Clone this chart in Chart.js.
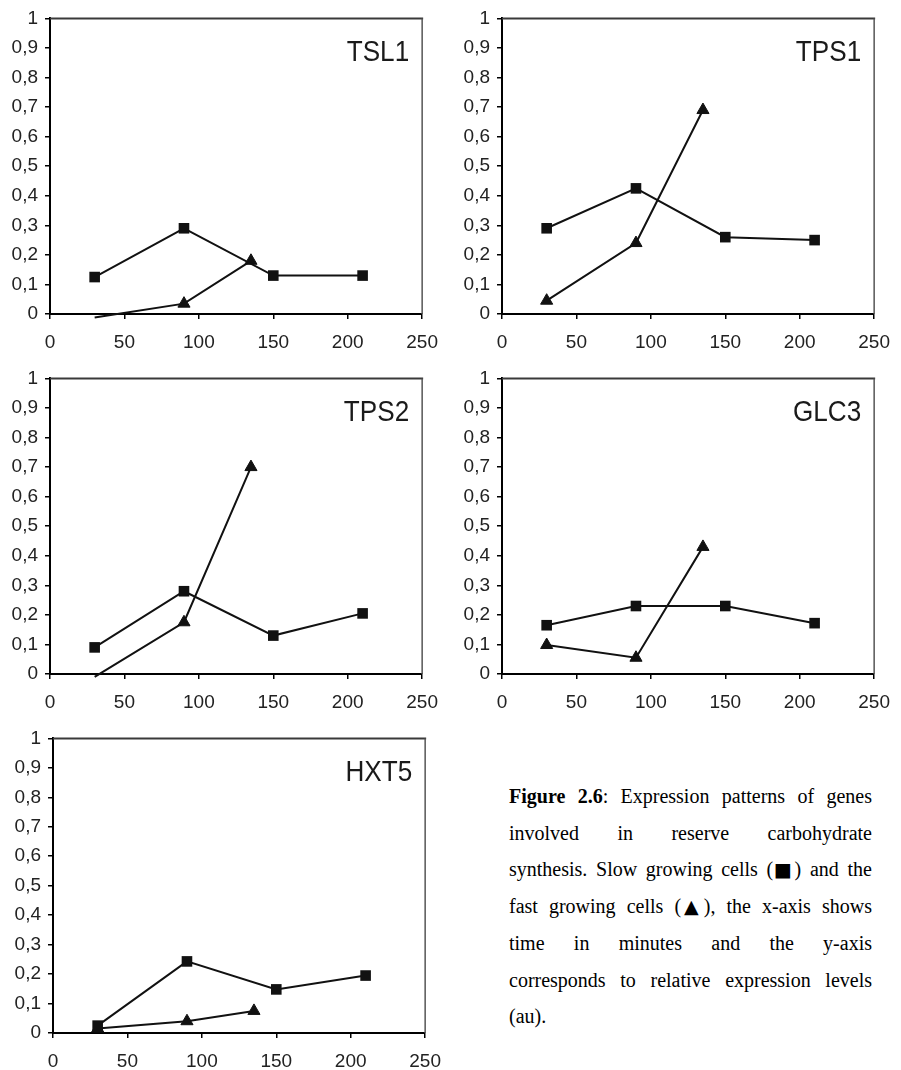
<!DOCTYPE html>
<html>
<head>
<meta charset="utf-8">
<script src="https://cdn.jsdelivr.net/npm/chart.js@4.4.1/dist/chart.umd.min.js"></script>
<style>
	body { margin: 0; background: #fff; width: 901px; height: 1070px; position: relative; overflow: hidden; }
	canvas { position: absolute; }
	#caption {
		position: absolute;
		left: 509px;
		top: 778px;
		width: 363px;
		font-family: "Liberation Serif", "Times New Roman", serif;
		font-size: 20px;
		line-height: 36.7px;
		color: #000;
	}
	#caption div { text-align: justify; text-align-last: justify; white-space: nowrap; }
	#caption div.last { text-align-last: left; }
	#caption .sym { font-family: "DejaVu Sans", sans-serif; font-size: 19px; line-height: 0; margin: 0 -1px 0 -3px; }
</style>
</head>
<body>
<canvas id="panel0"></canvas>
<canvas id="panel1"></canvas>
<canvas id="panel2"></canvas>
<canvas id="panel3"></canvas>
<canvas id="panel4"></canvas>

<div id="caption">
	<div><b>Figure 2.6</b>: Expression patterns of genes</div>
	<div>involved in reserve carbohydrate</div>
	<div>synthesis. Slow growing cells (<span class="sym">&#9632;</span>) and the</div>
	<div>fast growing cells (<span class="sym">&#9650;</span>), the x-axis shows</div>
	<div>time in minutes and the y-axis</div>
	<div>corresponds to relative expression levels</div>
	<div class="last">(au).</div>
</div>

<script>
// time points (minutes)
const timesSlow = [30, 90, 150, 210];
const timesFast = [30, 90, 135];

// tick labels
const xTickLabels = ["0", "50", "100", "150", "200", "250"];
const yTickLabels = ["0", "0,1", "0,2", "0,3", "0,4", "0,5", "0,6", "0,7", "0,8", "0,9", "1"];

const geneNames = ["TSL1", "TPS1", "TPS2", "GLC3", "HXT5"];

// slow growing cells (squares)
const tsl1Slow = [0.125, 0.29, 0.13, 0.13];
const tps1Slow = [0.29, 0.425, 0.26, 0.25];
const tps2Slow = [0.09, 0.28, 0.13, 0.205];
const glc3Slow = [0.165, 0.23, 0.23, 0.172];
const hxt5Slow = [0.025, 0.243, 0.148, 0.195];

// fast growing cells (triangles)
const tsl1Fast = [-0.012, 0.035, 0.18];
const tps1Fast = [0.045, 0.24, 0.69];
const tps2Fast = [-0.01, 0.175, 0.7];
const glc3Fast = [0.098, 0.055, 0.43];
const hxt5Fast = [0.015, 0.04, 0.075];

const slowSeries = [tsl1Slow, tps1Slow, tps2Slow, glc3Slow, hxt5Slow];
const fastSeries = [tsl1Fast, tps1Fast, tps2Fast, glc3Fast, hxt5Fast];

// plot area of each panel: left, top, right, bottom (page pixels)
const plotBoxes = [
	[50, 17, 428, 314],
	[502, 17, 880, 314],
	[50, 377, 428, 674],
	[502, 377, 880, 674],
	[53, 737, 431, 1033],
];
const yAxisWidth = 50;
const xAxisHeight = 36;
const padTop = 17;
const padRight = 22;

const ink = "#111";
const tickFont = { family: '"Liberation Sans", Arial, sans-serif', size: 19 };

function toPoints(times, values) {
	return times.map(function (t, i) {
		return { x: t, y: values[i] };
	});
}

// gene name in the top right corner + grey top/right frame
const panelDecor = {
	id: "panelDecor",
	beforeDatasetsDraw(chart) {
		const a = chart.chartArea;
		const ctx = chart.ctx;
		ctx.save();
		ctx.strokeStyle = "#3a3a3a";
		ctx.lineWidth = 2;
		ctx.beginPath();
		ctx.moveTo(a.left, a.top);
		ctx.lineTo(a.right + 1, a.top);
		ctx.stroke();
		ctx.strokeStyle = "#555";
		ctx.lineWidth = 1.5;
		ctx.beginPath();
		ctx.moveTo(a.right, a.top);
		ctx.lineTo(a.right, a.bottom);
		ctx.stroke();
		ctx.restore();
	},
	afterDraw(chart, args, opts) {
		const a = chart.chartArea;
		const ctx = chart.ctx;
		ctx.save();
		ctx.fillStyle = "#1a1a1a";
		ctx.font = '29px "Liberation Sans", Arial, sans-serif';
		ctx.textAlign = "right";
		ctx.textBaseline = "alphabetic";
		ctx.translate(a.right - 13, a.top + 43);
		ctx.scale(0.9, 1);
		ctx.fillText(opts.text, 0, 0);
		ctx.restore();
	},
};

geneNames.forEach(function (gene, k) {
	const box = plotBoxes[k];
	const canvas = document.getElementById("panel" + k);
	const w = box[2] - box[0] + yAxisWidth + padRight;
	const h = box[3] - box[1] + padTop + xAxisHeight;
	canvas.width = w;
	canvas.height = h;
	canvas.style.left = box[0] - yAxisWidth + "px";
	canvas.style.top = box[1] - padTop + "px";

	const fast = fastSeries[k];

	new Chart(canvas.getContext("2d"), {
		type: "line",
		data: {
			datasets: [
				{
					label: "Slow growing cells",
					data: toPoints(timesSlow, slowSeries[k]),
					borderColor: ink,
					borderWidth: 2,
					backgroundColor: ink,
					pointStyle: "rect",
					pointRadius: 7.5,
					pointBorderWidth: 0,
					clip: false,
				},
				{
					label: "Fast growing cells",
					data: toPoints(timesFast, fast),
					borderColor: ink,
					borderWidth: 2,
					backgroundColor: ink,
					pointStyle: "triangle",
					pointRadius: fast.map(function (v) { return v < 0 ? 0 : 7; }),
					pointBorderWidth: 1,
					clip: false,
				},
			],
		},
		options: {
			responsive: false,
			animation: false,
			events: [],
			layout: {
				padding: { top: padTop, right: padRight, left: 0, bottom: 0 },
			},
			plugins: {
				legend: { display: false },
				tooltip: { enabled: false },
				panelDecor: { text: gene },
			},
			scales: {
				x: {
					type: "linear",
					min: 0,
					max: 250,
					afterFit(scale) { scale.height = xAxisHeight; },
					border: { display: true, color: "#000", width: 2 },
					grid: { drawOnChartArea: false, drawTicks: true, tickLength: 5, color: "#000", lineWidth: 1.5 },
					ticks: {
						stepSize: 50,
						padding: 12,
						color: "#222",
						font: tickFont,
						maxRotation: 0,
						autoSkip: false,
						callback: function (value, index) { return xTickLabels[index]; },
					},
				},
				y: {
					type: "linear",
					min: 0,
					max: 1,
					afterFit(scale) { scale.width = yAxisWidth; },
					border: { display: true, color: "#000", width: 2 },
					grid: { drawOnChartArea: false, drawTicks: true, tickLength: 5, color: "#000", lineWidth: 1.5 },
					ticks: {
						stepSize: 0.1,
						padding: 7,
						color: "#222",
						font: tickFont,
						autoSkip: false,
						callback: function (value, index) { return yTickLabels[index]; },
					},
				},
			},
		},
		plugins: [panelDecor],
	});
});
</script>
</body>
</html>
